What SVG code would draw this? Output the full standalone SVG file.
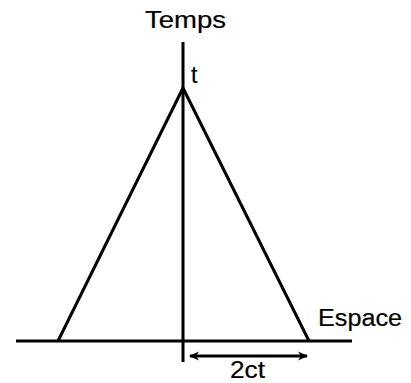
<svg xmlns="http://www.w3.org/2000/svg" width="411" height="383" viewBox="0 0 411 383">
<style>
.l{stroke:#000;stroke-width:3;fill:none}
.t{font-family:"Liberation Sans",Arial,sans-serif;font-size:23px;fill:#000;stroke:#000;stroke-width:0.2}
</style>
<defs>
<marker id="ah" markerWidth="10" markerHeight="10" refX="9" refY="5" orient="auto-start-reverse" markerUnits="userSpaceOnUse">
<path d="M0,0.5 L10,5 L0,9.5 L3,5 Z" fill="#000"/>
</marker>
</defs>
<rect width="411" height="383" fill="#fff"/>
<g id="connectors">
<line class="l" x1="183" y1="42" x2="183" y2="362"/>
<line class="l" x1="16" y1="341" x2="352" y2="341"/>
<polyline class="l" points="58,341 183,88 309,341"/>
<line class="l" x1="190" y1="356" x2="307" y2="356" marker-start="url(#ah)" marker-end="url(#ah)" stroke-width="2.5"/>
</g>
<g id="labels">
<text class="t" x="145" y="28" textLength="81" lengthAdjust="spacingAndGlyphs">Temps</text>
<text class="t" x="191" y="83" stroke-width="0.6">t</text>
<text class="t" x="318" y="326" textLength="84" lengthAdjust="spacingAndGlyphs">Espace</text>
<text class="t" x="230" y="378" textLength="35" lengthAdjust="spacingAndGlyphs">2ct</text>
</g>
</svg>
